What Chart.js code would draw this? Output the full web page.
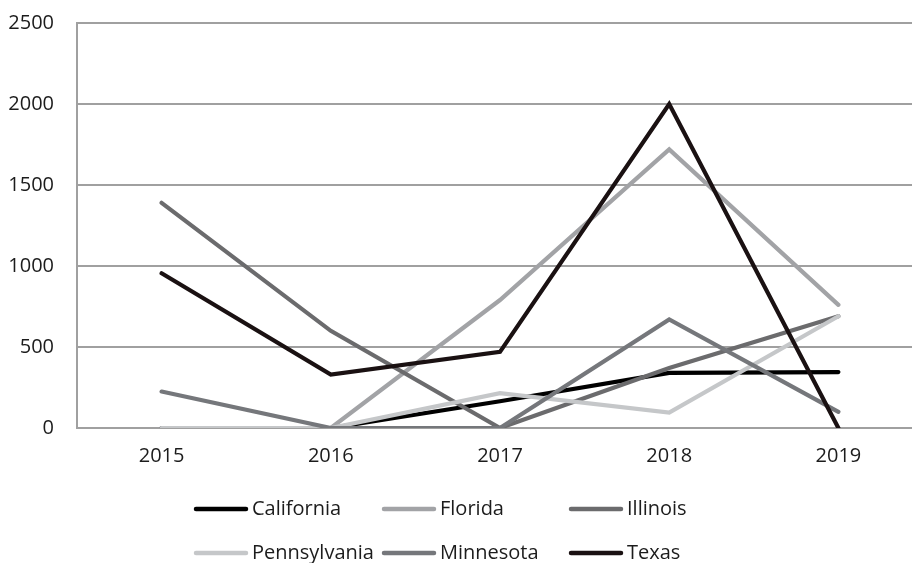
<!DOCTYPE html>
<html>
<head>
<meta charset="utf-8">
<script src="https://cdn.jsdelivr.net/npm/chart.js@4.4.1/dist/chart.umd.min.js"></script>
<style>
  html, body { margin: 0; padding: 0; background: #ffffff; overflow: hidden; }
  #wrap { position: relative; width: 923px; height: 563px; }
</style>
</head>
<body>
<div id="wrap"><canvas id="chart" width="923" height="563"></canvas></div>
<script>
// Yearly counts per state
const years = ['2015', '2016', '2017', '2018', '2019'];
const california   = [0, 0, 165, 340, 345];
const florida      = [0, 0, 790, 1720, 760];
const illinois     = [1390, 600, 0, 370, 690];
const pennsylvania = [0, 0, 215, 95, 690];
const minnesota    = [225, 0, 0, 670, 100];
const texas        = [955, 330, 470, 2000, 0];
const yTicks = [0, 500, 1000, 1500, 2000, 2500];

const FONT = "'Open Sans', 'Noto Sans', sans-serif";
const TEXT = '#1c1c1c';

function series(label, data, color, layer) {
  return {
    label, data,
    order: layer,            // lower value is painted later (on top)
    borderColor: color,
    backgroundColor: color,
    borderWidth: 4.2,
    pointRadius: 0,
    pointHoverRadius: 0,
    tension: 0,
    fill: false,
    borderCapStyle: 'round',
    borderJoinStyle: 'miter'
  };
}

// Each later state sits above the ones before it
const datasets = [
  series('California', california, '#000000', 6),
  series('Florida', florida, '#a2a3a6', 5),
  series('Illinois', illinois, '#6b6b6d', 4),
  series('Pennsylvania', pennsylvania, '#c5c7c9', 3),
  series('Minnesota', minnesota, '#75777b', 2),
  series('Texas', texas, '#1a1112', 1)
];

// Legend laid out in a 3 x 2 grid below the axis
const gridLegend = {
  id: 'gridLegend',
  afterDraw(chart) {
    const ctx = chart.ctx;
    const cols = [194, 382, 569];
    const rows = [509, 553];
    ctx.save();
    ctx.font = '20px ' + FONT;
    ctx.textBaseline = 'middle';
    ctx.textAlign = 'left';
    chart.data.datasets.forEach((ds, i) => {
      const x = cols[i % 3];
      const y = rows[Math.floor(i / 3)];
      ctx.strokeStyle = ds.borderColor;
      ctx.lineWidth = 4.5;
      ctx.lineCap = 'round';
      ctx.beginPath();
      ctx.moveTo(x + 2, y);
      ctx.lineTo(x + 52, y);
      ctx.stroke();
      ctx.fillStyle = TEXT;
      ctx.fillText(ds.label, x + 58, y);
    });
    ctx.restore();
  }
};

new Chart(document.getElementById('chart'), {
  type: 'line',
  data: { labels: years, datasets },
  plugins: [gridLegend],
  options: {
    responsive: false,
    animation: false,
    devicePixelRatio: 1,
    layout: { padding: { top: 23, left: 0, right: 0, bottom: 79 } },
    plugins: {
      legend: { display: false },
      tooltip: { enabled: false }
    },
    scales: {
      x: {
        offset: true,
        grid: { display: false, drawTicks: false },
        border: { display: true, color: '#a0a0a0', width: 2 },
        ticks: { color: TEXT, font: { family: FONT, size: 20 }, padding: 16 }
      },
      y: {
        min: 0,
        max: 2500,
        afterFit(scale) { scale.width = 77; },
        afterBuildTicks(scale) { scale.ticks = yTicks.map(v => ({ value: v })); },
        // invisible tick marks provide the gap between labels and axis
        grid: { color: '#a0a0a0', lineWidth: 2, drawTicks: true, tickLength: 23, tickColor: 'rgba(0,0,0,0)' },
        border: { display: true, color: '#a0a0a0', width: 2 },
        ticks: {
          color: TEXT,
          font: { family: FONT, size: 20 },
          padding: 0,
          callback: v => String(v)
        }
      }
    }
  }
});
</script>
</body>
</html>
